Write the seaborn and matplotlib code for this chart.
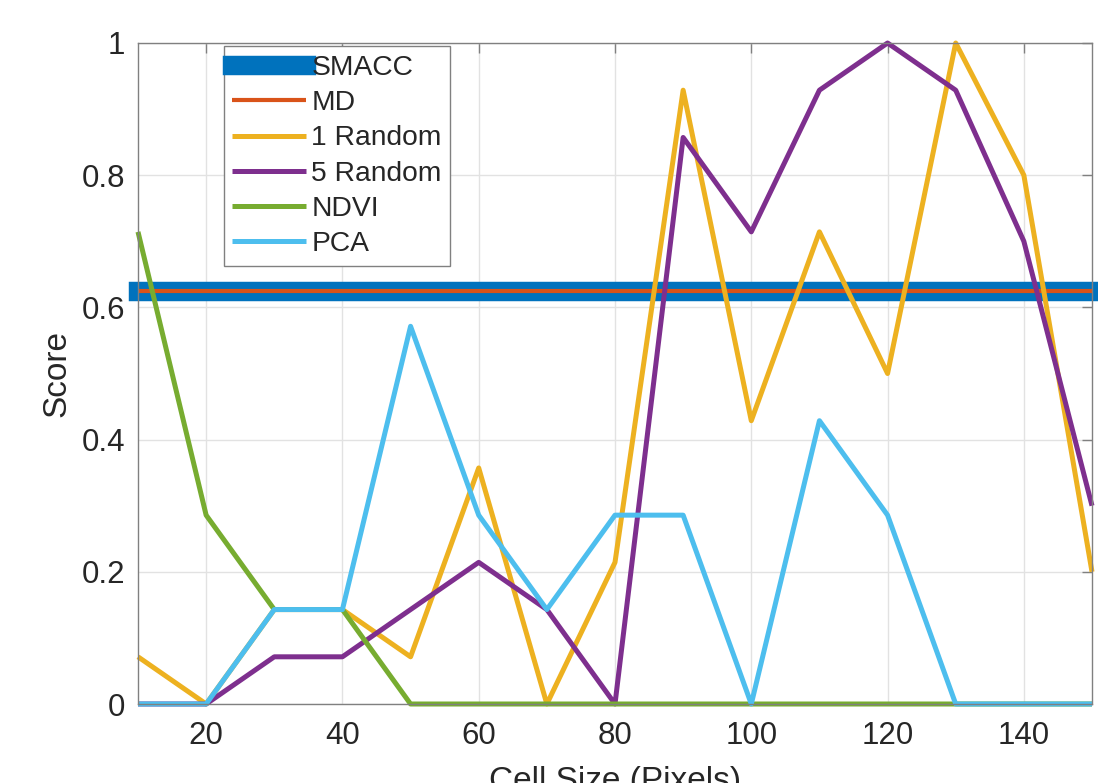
import matplotlib
matplotlib.use("Agg")
import matplotlib.pyplot as plt
import numpy as np
import pandas as pd
import seaborn as sns

cell_size = [10, 20, 30, 40, 50, 60, 70, 80, 90, 100, 110, 120, 130, 140, 150]

smacc_score = 0.625
md_score = 0.625
random1 = [0.0714, 0, 0.1429, 0.1429, 0.0714, 0.3571, 0, 0.2143, 0.9286, 0.4286,
           0.7143, 0.5, 1.0, 0.8, 0.2]
random5 = [0, 0, 0.0714, 0.0714, 0.1429, 0.2143, 0.1429, 0, 0.8571, 0.7143,
           0.9286, 1.0, 0.9286, 0.7, 0.3]
ndvi = [0.7143, 0.2857, 0.1429, 0.1429, 0, 0, 0, 0, 0, 0, 0, 0, 0, 0, 0]
pca = [0, 0, 0.1429, 0.1429, 0.5714, 0.2857, 0.1429, 0.2857, 0.2857, 0,
       0.4286, 0.2857, 0, 0, 0]

series_names = ["SMACC", "MD", "1 Random", "5 Random", "NDVI", "PCA"]
series_colors = ["#0072BD", "#D95319", "#EDB120", "#7E2F8E", "#77AC30", "#4DBEEE"]
series_widths = [14, 3, 3.6, 3.6, 3.6, 3.6]

sns.set_style("white")
plt.rcParams["font.family"] = ["Liberation Sans", "DejaVu Sans"]

df = pd.DataFrame({
    "cell": cell_size * 6,
    "score": [smacc_score] * len(cell_size) + [md_score] * len(cell_size)
    + random1 + random5 + ndvi + pca,
    "method": np.repeat(series_names, len(cell_size)),
})

fig = plt.figure(figsize=(10.98, 7.83), dpi=100)
ax = fig.add_axes([138 / 1098, 1 - 704 / 783, 954 / 1098, 661 / 783])

for name, color, lw in zip(series_names, series_colors, series_widths):
    sub = df[df["method"] == name]
    sns.lineplot(data=sub, x="cell", y="score", color=color, linewidth=lw,
                 label=name, ax=ax, clip_on=False,
                 solid_capstyle="projecting" if name == "SMACC" else "butt")

ax.set_xlim(10, 150)
ax.set_ylim(0, 1)
ax.set_xticks([20, 40, 60, 80, 100, 120, 140])
ax.set_yticks([0, 0.2, 0.4, 0.6, 0.8, 1.0])
ax.set_yticklabels(["0", "0.2", "0.4", "0.6", "0.8", "1"])
ax.grid(True, color="#e2e2e2", linewidth=1)
ax.set_axisbelow(True)
for spine in ax.spines.values():
    spine.set_visible(True)
    spine.set_color("#808080")
    spine.set_linewidth(1)
ax.tick_params(direction="in", length=7, width=1, color="#808080",
               top=True, right=True, labelsize=22.5, labelcolor="#262626")
ax.tick_params(axis="x", pad=12)
ax.tick_params(axis="y", pad=9)
ax.set_xlabel("Cell Size (Pixels)", fontsize=24, color="#262626", labelpad=11)
ax.set_ylabel("Score", fontsize=24, color="#262626", labelpad=7)

leg = ax.legend(loc="upper left", bbox_to_anchor=(0.09, 0.995), fontsize=20.3,
                frameon=True, fancybox=False, framealpha=1, edgecolor="#808080",
                handlelength=2.6, handletextpad=0.2, labelspacing=0.33,
                borderpad=0.3, borderaxespad=0)
leg.get_frame().set_linewidth(1)

fig.savefig("out.png", dpi=100)
